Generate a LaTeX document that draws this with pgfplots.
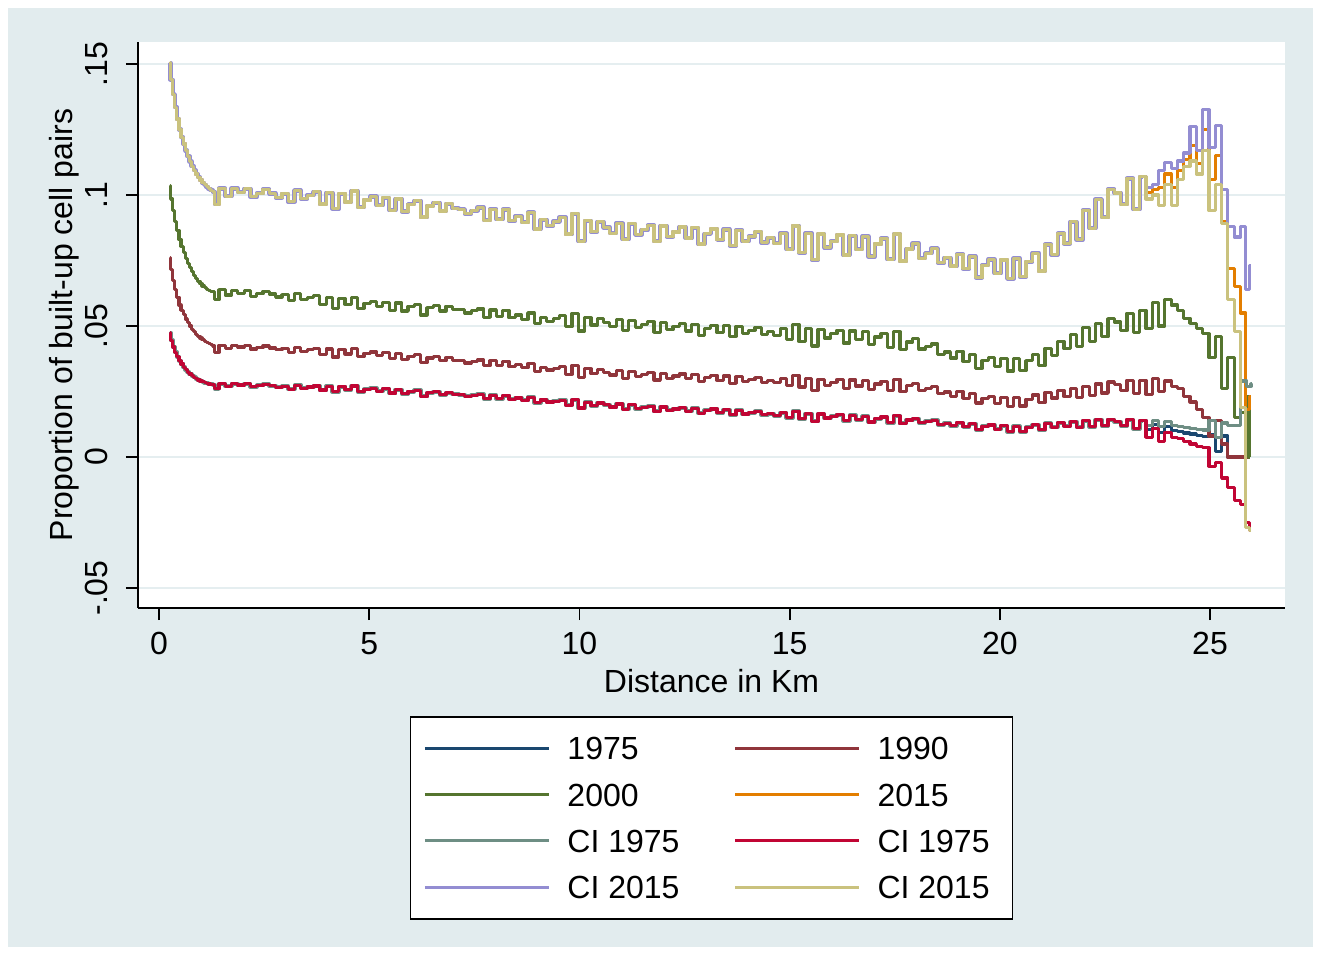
\documentclass[border=0pt]{standalone}
\usepackage{fontspec}
\setmainfont{Liberation Sans}
\usepackage{pgfplots}
\usepackage{pgfplotstable}
\pgfplotsset{compat=1.18}
\definecolor{bgc}{RGB}{226,236,238}
\definecolor{gridc}{RGB}{229,238,240}
\definecolor{stnavy}{RGB}{26,71,111}
\definecolor{stmaroon}{RGB}{144,53,59}
\definecolor{stgreen}{RGB}{85,117,47}
\definecolor{storange}{RGB}{227,126,0}
\definecolor{stteal}{RGB}{110,142,132}
\definecolor{stcran}{RGB}{193,5,52}
\definecolor{stlav}{RGB}{147,141,210}
\definecolor{stkhaki}{RGB}{202,194,126}
\newcommand\fsz{\fontsize{16}{19}\selectfont}

\pgfplotstableread{
x T G M R
0.25 .1505 .1035 .0760 .0475
0.30 .1440 .0985 .0715 .0445
0.35 .1385 .0940 .0675 .0420
0.40 .1335 .0900 .0640 .0400
0.45 .1290 .0865 .0610 .0383
0.50 .1250 .0830 .0580 .0368
0.55 .1220 .0805 .0560 .0355
0.60 .1195 .0780 .0543 .0343
0.65 .1170 .0758 .0527 .0333
0.70 .1148 .0740 .0512 .0324
0.75 .1128 .0722 .0500 .0317
0.80 .1110 .0707 .0488 .0310
0.85 .1094 .0693 .0478 .0304
0.90 .1080 .0681 .0469 .0299
0.95 .1068 .0670 .0461 .0294
1.00 .1057 .0661 .0454 .0290
1.05 .1047 .0653 .0448 .0287
1.10 .1039 .0646 .0442 .0284
1.15 .1031 .0640 .0437 .0281
1.20 .1024 .0636 .0432 .0279
1.25 .1018 .0633 .0428 .0277
1.30 .1013 .0631 .0424 .0276
1.35 .0965 .0600 .0399 .0260
1.50 .1025 .0639 .0427 .0280
1.65 .0995 .0618 .0413 .0270
1.80 .1025 .0637 .0427 .0280
1.95 .1010 .0625 .0420 .0275
2.10 .1024 .0635 .0427 .0280
2.25 .0993 .0614 .0412 .0269
2.40 .1007 .0623 .0418 .0273
2.55 .1022 .0632 .0424 .0278
2.70 .1006 .0622 .0416 .0272
2.85 .0990 .0611 .0409 .0266
3.00 .1005 .0620 .0415 .0270
3.15 .0974 .0597 .0400 .0259
3.30 .1017 .0624 .0419 .0274
3.45 .0986 .0601 .0404 .0263
3.60 .0999 .0608 .0409 .0267
3.75 .1013 .0615 .0415 .0271
3.90 .0966 .0582 .0392 .0256
4.05 .1009 .0609 .0412 .0270
4.20 .0947 .0567 .0382 .0249
4.35 .1005 .0605 .0409 .0268
4.50 .0973 .0583 .0393 .0257
4.65 .1015 .0610 .0413 .0271
4.80 .0953 .0568 .0383 .0249
4.95 .0981 .0586 .0396 .0258
5.10 .0994 .0594 .0401 .0262
5.25 .0961 .0573 .0386 .0251
5.40 .0989 .0591 .0398 .0260
5.55 .0942 .0560 .0376 .0244
5.70 .0985 .0588 .0395 .0257
5.85 .0937 .0557 .0373 .0241
6.00 .0965 .0575 .0385 .0250
6.15 .0978 .0583 .0390 .0254
6.30 .0916 .0542 .0360 .0232
6.45 .0958 .0570 .0378 .0246
6.60 .0971 .0579 .0383 .0249
6.75 .0939 .0557 .0367 .0238
6.90 .0967 .0576 .0379 .0246
7.05 .0949 .0564 .0369 .0240
7.20 .0946 .0562 .0368 .0238
7.35 .0928 .0550 .0359 .0232
7.50 .0940 .0558 .0365 .0235
7.65 .0952 .0565 .0370 .0239
7.80 .0904 .0533 .0348 .0222
7.95 .0946 .0561 .0367 .0236
8.10 .0907 .0536 .0350 .0223
8.25 .0945 .0559 .0365 .0234
8.40 .0902 .0531 .0345 .0220
8.55 .0919 .0542 .0352 .0225
8.70 .0896 .0526 .0341 .0217
8.85 .0933 .0550 .0356 .0228
9.00 .0870 .0509 .0327 .0208
9.15 .0906 .0533 .0343 .0218
9.30 .0883 .0518 .0332 .0210
9.45 .0899 .0528 .0338 .0213
9.60 .0915 .0539 .0345 .0217
9.75 .0851 .0498 .0316 .0197
9.90 .0928 .0548 .0350 .0219
10.05 .0824 .0481 .0303 .0187
10.20 .0902 .0531 .0337 .0209
10.35 .0860 .0504 .0318 .0196
10.50 .0898 .0528 .0334 .0206
10.65 .0876 .0514 .0324 .0199
10.80 .0854 .0499 .0313 .0191
10.95 .0892 .0524 .0330 .0202
11.10 .0831 .0483 .0301 .0182
11.25 .0890 .0521 .0327 .0199
11.40 .0848 .0493 .0307 .0185
11.55 .0867 .0505 .0315 .0190
11.70 .0885 .0516 .0322 .0194
11.85 .0824 .0476 .0294 .0175
12.00 .0882 .0513 .0319 .0191
12.15 .0841 .0486 .0300 .0178
12.30 .0859 .0497 .0309 .0183
12.45 .0878 .0509 .0317 .0188
12.60 .0836 .0481 .0299 .0175
12.75 .0875 .0506 .0316 .0186
12.90 .0813 .0465 .0288 .0167
13.05 .0852 .0490 .0305 .0178
13.20 .0870 .0502 .0312 .0183
13.35 .0829 .0475 .0293 .0169
13.50 .0868 .0501 .0309 .0180
13.65 .0806 .0461 .0281 .0161
13.80 .0865 .0499 .0306 .0178
13.95 .0823 .0472 .0287 .0164
14.10 .0842 .0484 .0295 .0169
14.25 .0860 .0495 .0303 .0174
14.40 .0819 .0468 .0284 .0161
14.55 .0837 .0479 .0292 .0166
14.70 .0816 .0465 .0283 .0158
14.85 .0854 .0489 .0300 .0169
15.00 .0793 .0449 .0272 .0150
15.15 .0882 .0506 .0311 .0175
15.30 .0780 .0441 .0267 .0146
15.45 .0854 .0489 .0299 .0166
15.60 .0753 .0424 .0255 .0137
15.75 .0851 .0487 .0297 .0164
15.90 .0800 .0454 .0274 .0149
16.05 .0824 .0470 .0285 .0155
16.20 .0847 .0484 .0295 .0161
16.35 .0771 .0435 .0261 .0139
16.50 .0845 .0481 .0294 .0159
16.65 .0793 .0448 .0271 .0143
16.80 .0842 .0478 .0292 .0156
16.95 .0765 .0429 .0258 .0134
17.10 .0813 .0458 .0279 .0147
17.25 .0834 .0470 .0289 .0153
17.40 .0755 .0418 .0254 .0131
17.55 .0851 .0478 .0297 .0158
17.70 .0748 .0411 .0251 .0128
17.85 .0794 .0439 .0272 .0141
18.00 .0815 .0451 .0281 .0147
18.15 .0759 .0412 .0255 .0131
18.30 .0778 .0421 .0261 .0136
18.45 .0797 .0431 .0268 .0140
18.60 .0741 .0392 .0241 .0124
18.75 .0760 .0401 .0248 .0129
18.90 .0729 .0378 .0232 .0119
19.05 .0774 .0404 .0250 .0131
19.20 .0719 .0366 .0224 .0115
19.35 .0765 .0392 .0242 .0127
19.50 .0685 .0338 .0206 .0105
19.65 .0732 .0367 .0224 .0117
19.80 .0754 .0380 .0231 .0122
19.95 .0701 .0345 .0205 .0106
20.10 .0752 .0376 .0226 .0119
20.25 .0680 .0328 .0193 .0097
20.40 .0758 .0376 .0226 .0117
20.55 .0688 .0330 .0195 .0097
20.70 .0745 .0368 .0221 .0113
20.85 .0778 .0390 .0237 .0123
21.00 .0710 .0348 .0208 .0104
21.15 .0811 .0414 .0247 .0128
21.30 .0772 .0387 .0225 .0114
21.45 .0853 .0441 .0254 .0131
21.60 .0815 .0414 .0232 .0117
21.75 .0898 .0468 .0262 .0135
21.90 .0830 .0421 .0226 .0113
22.05 .0942 .0493 .0270 .0138
22.20 .0873 .0442 .0235 .0116
22.35 .0984 .0511 .0279 .0142
22.50 .0915 .0460 .0244 .0119
22.65 .1022 .0528 .0286 .0143
22.80 .1008 .0515 .0276 .0135
22.95 .0965 .0483 .0253 .0119
23.10 .1063 .0549 .0293 .0142
23.25 .0946 .0474 .0241 .0108
23.40 .1070 .0560 .0293 .0138
}\main

\begin{document}
\begin{tikzpicture}
\fill[white] (0,0) rectangle (660.5pt,477.5pt);
\fill[bgc] (4pt,4pt) rectangle (656.5pt,473.5pt);
\begin{axis}[
  at={(69pt,173.5pt)}, anchor=south west,
  scale only axis, width=573.5pt, height=283pt,
  xmin=-0.4995, xmax=26.784, ymin=-0.05763, ymax=0.1584,
  axis x line*=bottom, axis y line*=left,
  axis line style={black, line width=0.9pt},
  axis background/.style={fill=white},
  xtick={0,5,10,15,20,25}, xticklabels={0,5,10,15,20,25},
  ytick={-0.05,0,0.05,0.1,0.15}, yticklabels={-.05,0,.05,.1,.15},
  tick align=outside, major tick length=6pt,
  tick style={black, line width=0.9pt},
  ymajorgrids, grid style={gridc, line width=1.3pt},
  xticklabel style={font=\fsz, anchor=north, inner sep=0pt, yshift=-6pt},
  yticklabel style={font=\fsz, xshift=-9pt, rotate=90, anchor=south, inner sep=0pt},
  every axis x label/.style={at={(axis description cs:0.5,-0.129)}, anchor=center, font=\fsz},
  every axis y label/.style={at={(axis description cs:-0.0645,0.5)}, anchor=center, rotate=90, font=\fsz},
  xlabel={Distance in Km},
  ylabel={Proportion of built-up cell pairs},
  legend columns=2,
  legend cell align=left,
  legend image code/.code={\draw[#1] (0pt,0pt) -- (62pt,0pt);},
  legend image post style={line width=1.5pt},
  legend style={
    at={(0.5,-0.1908)}, anchor=north,
    draw=black, line width=0.8pt, fill=white,
    inner xsep=6.5pt, inner ysep=10pt,
    font=\fsz,
    nodes={inner sep=0pt, text height=11.5pt, text depth=0pt},
    row sep=11.65pt,
    /tikz/every odd column/.append style={column sep=8.5pt},
    /tikz/every even column/.append style={column sep=27pt},
  },
  every axis plot/.append style={const plot mark mid, line join=round},
]
% 1975
\addplot[stnavy, line width=1.6pt] table[x=x, y=R] {\main};
\addlegendentry{1975}
\addplot[stnavy, line width=1.6pt, forget plot] coordinates {(23.40,.0138)(23.55,.0105)(23.70,.0125)(23.85,.0095)(24.00,.0115)(24.15,.0100)(24.30,.0098)(24.45,.0092)(24.60,.0088)(24.75,.0082)(24.90,.0078)(25.05,.0085)(25.20,.0020)(25.35,.0080)(25.50,0)(25.95,0)};
% 1990
\addplot[stmaroon, line width=1.6pt] table[x=x, y=M] {\main};
\addlegendentry{1990}
\addplot[stmaroon, line width=1.6pt, forget plot] coordinates {(23.40,.0293)(23.55,.0240)(23.70,.0300)(23.85,.0250)(24.00,.0290)(24.15,.0270)(24.30,.0260)(24.45,.0230)(24.60,.0210)(24.75,.0180)(24.90,.0150)(25.05,.0080)(25.20,.0140)(25.35,.0050)(25.50,0)(25.95,0)};
% 2000
\addplot[stgreen, line width=1.6pt] table[x=x, y=G] {\main};
\addlegendentry{2000}
\addplot[stgreen, line width=1.6pt, forget plot] coordinates {(23.40,.0560)(23.55,.0490)(23.70,.0590)(23.85,.0500)(24.00,.0600)(24.15,.0580)(24.30,.0560)(24.45,.0530)(24.60,.0510)(24.75,.0490)(24.90,.0470)(25.05,.0380)(25.20,.0460)(25.35,.0260)(25.50,.0380)(25.65,.0150)(25.80,.0170)(25.90,.0230)(25.95,0)};
% 2015
\addplot[storange, line width=1.6pt] table[x=x, y=T] {\main};
\addlegendentry{2015}
\addplot[storange, line width=1.6pt, forget plot] coordinates {(23.40,.1070)(23.55,.1010)(23.70,.1020)(23.85,.1030)(24.00,.1080)(24.15,.1030)(24.30,.1095)(24.45,.1135)(24.60,.1190)(24.75,.1120)(24.90,.1250)(25.05,.1060)(25.20,.1150)(25.35,.0900)(25.50,.0720)(25.65,.0650)(25.80,.0550)(25.90,.0180)(25.97,.0230)};
% CI 1975 upper
\addplot[stteal, line width=2.0pt] table[x=x, y=R] {\main};
\addlegendentry{CI 1975}
\addplot[stteal, line width=1.6pt, forget plot] coordinates {(23.40,.0138)(23.55,.0120)(23.70,.0140)(23.85,.0115)(24.00,.0135)(24.15,.0120)(24.30,.0118)(24.45,.0112)(24.60,.0110)(24.75,.0105)(24.90,.0103)(25.05,.0140)(25.20,.0075)(25.35,.0130)(25.50,.0120)(25.65,.0120)(25.80,.0290)(25.95,.0270)(26.00,.0280)};
% CI 1975 lower
\addplot[stcran, line width=1.6pt] table[x=x, y=R] {\main};
\addlegendentry{CI 1975}
\addplot[stcran, line width=1.6pt, forget plot] coordinates {(23.40,.0138)(23.55,.0075)(23.70,.0110)(23.85,.0060)(24.00,.0095)(24.15,.0075)(24.30,.0070)(24.45,.0060)(24.60,.0050)(24.75,.0040)(24.90,.0035)(25.05,-.0035)(25.20,-.0020)(25.35,-.0080)(25.50,-.0115)(25.65,-.0165)(25.80,-.0180)(25.90,-.0250)(25.97,-.0280)};
% CI 2015 upper
\addplot[stlav, line width=2.1pt] table[x=x, y=T] {\main};
\addlegendentry{CI 2015}
\addplot[stlav, line width=1.6pt, forget plot] coordinates {(23.40,.1070)(23.55,.1030)(23.70,.1040)(23.85,.1095)(24.00,.1125)(24.15,.1100)(24.30,.1130)(24.45,.1160)(24.60,.1260)(24.75,.1170)(24.90,.1325)(25.05,.1180)(25.20,.1265)(25.35,.1020)(25.50,.0880)(25.65,.0840)(25.80,.0880)(25.90,.0640)(25.97,.0730)};
% CI 2015 lower
\addplot[stkhaki, line width=1.6pt] table[x=x, y=T] {\main};
\addlegendentry{\makebox[61pt][l]{CI 2015}}
\addplot[stkhaki, line width=1.6pt, forget plot] coordinates {(23.40,.1070)(23.55,.0985)(23.70,.1000)(23.85,.0960)(24.00,.1040)(24.15,.0960)(24.30,.1060)(24.45,.1110)(24.60,.1130)(24.75,.1080)(24.90,.1170)(25.05,.0940)(25.20,.1040)(25.35,.0890)(25.50,.0600)(25.65,.0480)(25.80,.0190)(25.90,-.0270)(25.97,-.0280)};
\end{axis}
\pgfresetboundingbox
\path[use as bounding box] (0,0) rectangle (660.5pt,477.5pt);
\end{tikzpicture}
\end{document}
